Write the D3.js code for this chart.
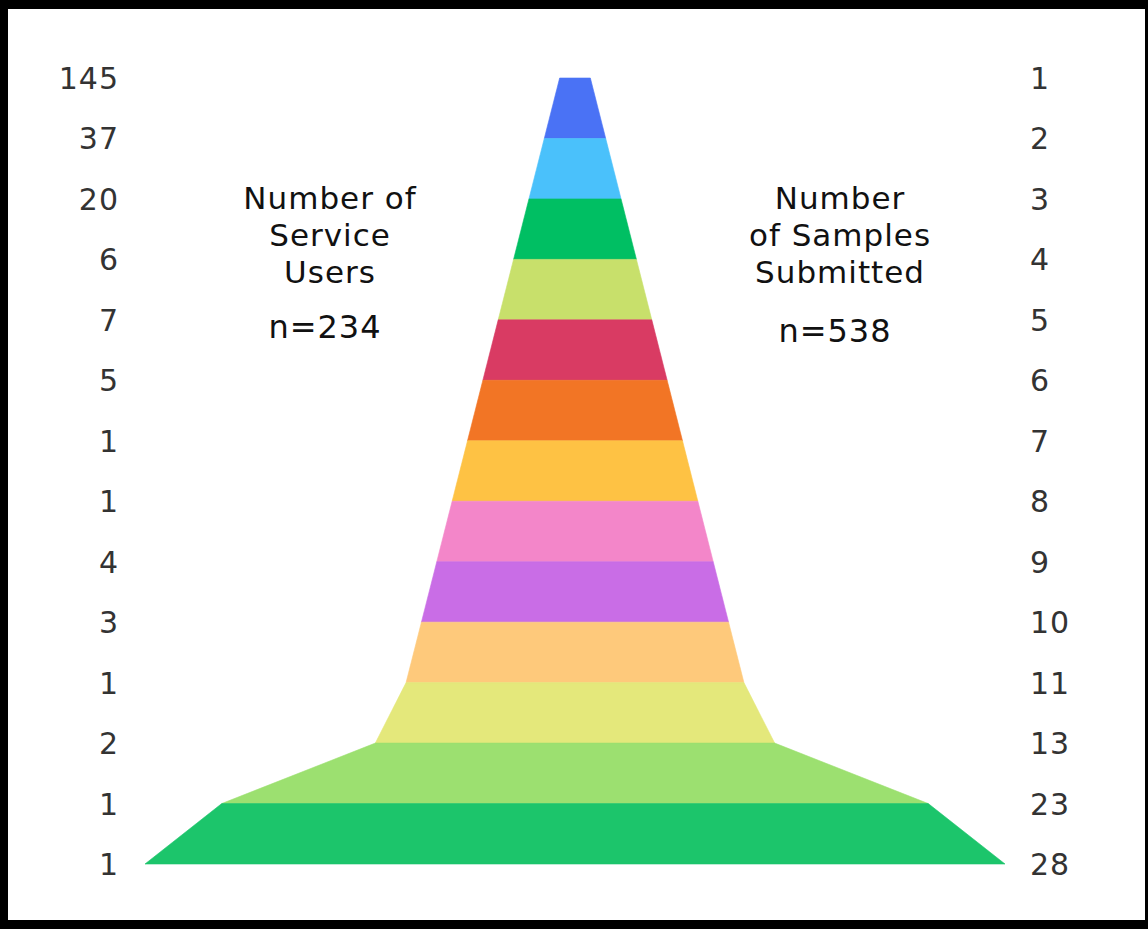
<!DOCTYPE html>
<html>
<head>
<meta charset="utf-8">
<script src="https://cdn.jsdelivr.net/npm/d3@7"></script>
<style>
  html, body { margin: 0; padding: 0; background: #fff; }
  svg { display: block; }
</style>
</head>
<body>
<svg id="chart" width="1148" height="929"></svg>
<script>
// Number of samples submitted per service user (right axis) and
// how many service users submitted that many (left axis).
const samplesSubmitted = [1, 2, 3, 4, 5, 6, 7, 8, 9, 10, 11, 13, 23, 28];
const serviceUsers     = [145, 37, 20, 6, 7, 5, 1, 1, 4, 3, 1, 2, 1, 1];
const bandColors = [
  "#4a72f5", "#4ac1fb", "#00bf63", "#c8e06b", "#d93b63", "#f27525",
  "#fec244", "#f386c9", "#c96de6", "#fec97b", "#e4e87b", "#9ce070", "#1cc56b"
];
const leftTitle  = ["Number of", "Service", "Users"];
const rightTitle = ["Number", "of Samples", "Submitted"];
const leftTotal  = "n=234";
const rightTotal = "n=538";

const W = 1148, H = 929;
const svg = d3.select("#chart");
const font = "'DejaVu Sans', sans-serif";

// frame
svg.append("rect").attr("width", W).attr("height", H).attr("fill", "#000");
svg.append("rect").attr("x", 8).attr("y", 9).attr("width", 1137).attr("height", 911).attr("fill", "#fff");

// scales
const cx = 575;
const widthScale = d3.scaleLinear().domain([0, 28]).range([0, 860]);
const y = d3.scalePoint().domain(d3.range(samplesSubmitted.length)).range([78, 864]);

// bands: each band spans two consecutive levels, width proportional to the sample count
const bands = d3.range(samplesSubmitted.length - 1).map(i => ({ i, color: bandColors[i] }));
const area = d3.area()
  .x0(d => cx - widthScale(samplesSubmitted[d]) / 2)
  .x1(d => cx + widthScale(samplesSubmitted[d]) / 2)
  .y(d => y(d));

svg.append("g").selectAll("path")
  .data(bands)
  .join("path")
  .attr("d", b => area([b.i, b.i + 1]))
  .attr("fill", b => b.color)
  .attr("stroke", b => b.color)
  .attr("stroke-width", 0.6);

// left labels: service users
svg.append("g").selectAll("text")
  .data(serviceUsers)
  .join("text")
  .attr("x", 119)
  .attr("y", (d, i) => y(i) + 11)
  .attr("text-anchor", "end")
  .attr("font-family", font)
  .attr("font-size", 30)
  .attr("letter-spacing", 1)
  .attr("fill", "#333")
  .text(d => d);

// right labels: samples submitted
svg.append("g").selectAll("text")
  .data(samplesSubmitted)
  .join("text")
  .attr("x", 1030)
  .attr("y", (d, i) => y(i) + 11)
  .attr("text-anchor", "start")
  .attr("font-family", font)
  .attr("font-size", 30)
  .attr("letter-spacing", 1)
  .attr("fill", "#333")
  .text(d => d);

// titles
function title(lines, total, x, totalY) {
  const g = svg.append("g")
    .attr("font-family", font)
    .attr("font-size", 31)
    .attr("letter-spacing", 1)
    .attr("fill", "#111")
    .attr("text-anchor", "middle");
  g.selectAll("text.line")
    .data(lines)
    .join("text")
    .attr("class", "line")
    .attr("x", x)
    .attr("y", (d, i) => 209 + i * 37)
    .text(d => d);
  g.append("text")
    .attr("x", x - 5)
    .attr("y", totalY)
    .attr("font-size", 32)
    .text(total);
}
title(leftTitle, leftTotal, 330, 338);
title(rightTitle, rightTotal, 840, 342);
</script>
</body>
</html>
